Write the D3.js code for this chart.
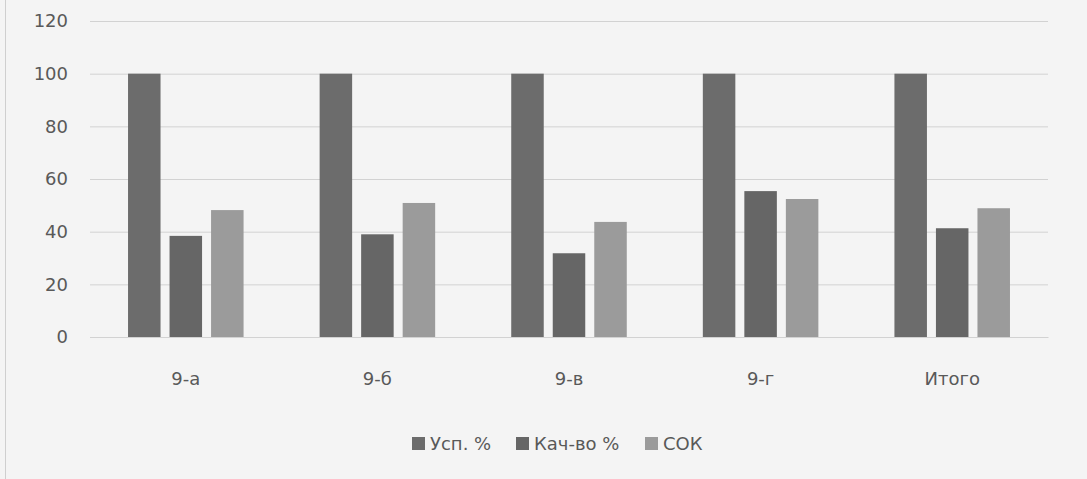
<!DOCTYPE html>
<html><head><meta charset="utf-8">
<script src="https://cdn.jsdelivr.net/npm/d3@7"></script>
<style>
html,body{margin:0;padding:0;background:#f4f4f4;}
svg{display:block;}
text{font-family:"DejaVu Sans",sans-serif;fill:#595959;}
</style></head>
<body>
<svg id="c" width="1087" height="479"></svg>
<script>
const categories = ["9-а","9-б","9-в","9-г","Итого"];
const seriesNames = ["Усп. %","Кач-во %","СОК"];
const uspValues = [100,100,100,100,100];
const kachValues = [38.4,39.0,31.8,55.4,41.3];
const sokValues = [48.2,50.9,43.7,52.4,48.9];
const yTicks = [0,20,40,60,80,100,120];
const colors = ["#6c6c6c","#666666","#9b9b9b"];

(function(){
const FONT='"DejaVu Sans",sans-serif';
const series = [uspValues,kachValues,sokValues];
const svg = d3.select("#c");
svg.append("rect").attr("x",0).attr("y",0).attr("width",1087).attr("height",479).attr("fill","#f4f4f4");
svg.append("line").attr("x1",5.5).attr("x2",5.5).attr("y1",0).attr("y2",479).attr("stroke","#cfcfcf");

const pl=90,pr=1048,pt=21,pb=337;
const x = d3.scaleBand().domain(categories).range([pl,pr]).paddingInner(0).paddingOuter(0);
const xs = d3.scaleBand().domain(d3.range(3)).range([0,x.bandwidth()]).paddingInner(0.217).paddingOuter(0.916);
const y = d3.scaleLinear().domain([0,120]).range([pb,pt]);

const yAxis = svg.append("g").attr("transform",`translate(${pl},0)`)
  .call(d3.axisLeft(y).tickValues(yTicks).tickSize(-(pr-pl)).tickPadding(22));
yAxis.select(".domain").remove();
yAxis.selectAll(".tick line").attr("stroke","#d2d2d2");
yAxis.selectAll(".tick text").attr("font-size",18).attr("fill","#595959").style("font-family",FONT);

const g = svg.append("g");
categories.forEach((c,i)=>{
  series.forEach((s,j)=>{
    g.append("rect").attr("x",x(c)+xs(j)).attr("width",xs.bandwidth())
      .attr("y",y(s[i])).attr("height",y(0)-y(s[i])).attr("fill",colors[j]);
  });
});

const xAxis = svg.append("g").attr("transform",`translate(0,${pb})`)
  .call(d3.axisBottom(x).tickSize(0).tickPadding(35));
xAxis.select(".domain").attr("stroke","#d2d2d2");
xAxis.selectAll(".tick text").attr("font-size",18).attr("fill","#595959").style("font-family",FONT);

const legendX=[412,516,645];
const lg = svg.append("g");
seriesNames.forEach((n,j)=>{
  lg.append("rect").attr("x",legendX[j]).attr("y",437).attr("width",13).attr("height",13).attr("fill",colors[j]);
  lg.append("text").attr("x",legendX[j]+18).attr("y",450).attr("font-size",18).style("font-family",FONT).text(n);
});
})();
</script>
</body></html>
